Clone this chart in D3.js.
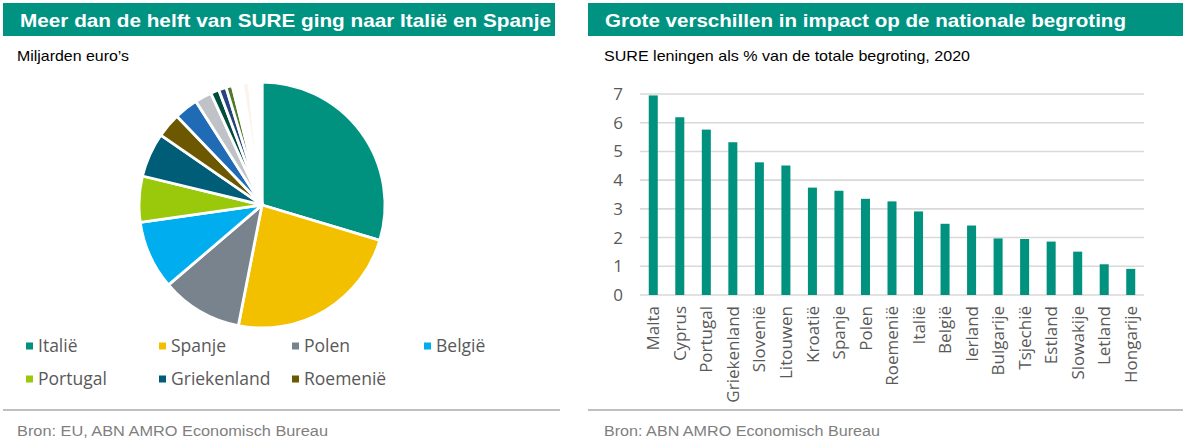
<!DOCTYPE html>
<html>
<head>
<meta charset="utf-8">
<script src="https://cdn.jsdelivr.net/npm/d3@7"></script>
<style>
  html, body { margin: 0; padding: 0; background: #fff; }
  svg { display: block; }
</style>
</head>
<body>
<svg id="chart" width="1185" height="445"></svg>
<script>
// ---------- DATA ----------
const pieCountries = ["Italië","Spanje","Polen","België","Portugal","Griekenland","Roemenië",
  "Tsjechië","Ierland","Kroatië","Slovenië","Litouwen","Slowakije","Bulgarije","Cyprus","Malta",
  "Hongarije","Letland","Estland"];
const pieValues = [26.7, 21.1, 9.6, 8.1, 5.45, 5.25, 2.9, 2.8, 2.0, 1.0, 0.9, 0.75, 0.3, 0.3, 0.3, 0.3, 0.8, 0.8, 0.7];
const pieColors = ["#00927f","#f3c000","#78838e","#00aeef","#99c90a","#005d78","#6b5800",
  "#1f6bb5","#bfc3c7","#004c3f","#26427f","#4f7a28","#8db4e2","#b4c7e7","#f4b183","#f8cbad",
  "#fdf2ec","#ffffff","#ffffff"];
const legendItems = ["Italië","Spanje","Polen","België","Portugal","Griekenland","Roemenië"];

const barCountries = ["Malta","Cyprus","Portugal","Griekenland","Slovenië","Litouwen","Kroatië",
  "Spanje","Polen","Roemenië","Italië","België","Ierland","Bulgarije","Tsjechië","Estland",
  "Slowakije","Letland","Hongarije"];
const barValues = [6.95, 6.19, 5.76, 5.32, 4.62, 4.51, 3.74, 3.63, 3.35, 3.26, 2.91, 2.48, 2.42,
  1.97, 1.95, 1.86, 1.51, 1.07, 0.91];
const yTicks = [0, 1, 2, 3, 4, 5, 6, 7];

const titles = ["Meer dan de helft van SURE ging naar Italië en Spanje",
                "Grote verschillen in impact op de nationale begroting"];
const subtitles = ["Miljarden euro’s", "SURE leningen als % van de totale begroting, 2020"];
const sources = ["Bron: EU, ABN AMRO Economisch Bureau", "Bron: ABN AMRO Economisch Bureau"];

// ---------- DRAW ----------
const svg = d3.select("#chart");
const teal = "#009382";
const sans = "'Liberation Sans', Arial, sans-serif";
const uiFont = "'Open Sans', 'Noto Sans', sans-serif";

const panels = [
  {x0: 3, x1: 555, tx: 20, tw: 531, sx: 17, sw: 112, fw: 311, lineX1: 560},
  {x0: 588, x1: 1183, tx: 605, tw: 521, sx: 604, sw: 366, fw: 276, lineX1: 1183}
];
panels.forEach((p, i) => {
  svg.append("rect").attr("x", p.x0).attr("y", 3).attr("width", p.x1 - p.x0).attr("height", 33)
    .attr("fill", teal);
  svg.append("text").attr("x", p.tx).attr("y", 26.5).text(titles[i])
    .attr("font-family", sans).attr("font-weight", "bold").attr("font-size", 19)
    .attr("fill", "#fff").attr("textLength", p.tw).attr("lengthAdjust", "spacingAndGlyphs");
  svg.append("text").attr("x", p.sx).attr("y", 60.5).text(subtitles[i])
    .attr("font-family", sans).attr("font-size", 15).attr("fill", "#000")
    .attr("textLength", p.sw).attr("lengthAdjust", "spacingAndGlyphs");
  svg.append("line").attr("x1", p.x0).attr("x2", p.lineX1).attr("y1", 410).attr("y2", 410)
    .attr("stroke", "#bfbfbf").attr("stroke-width", 2);
  svg.append("text").attr("x", p.sx).attr("y", 436).text(sources[i])
    .attr("font-family", sans).attr("font-size", 15.5).attr("fill", "#7f7f7f")
    .attr("textLength", p.fw).attr("lengthAdjust", "spacingAndGlyphs");
});

// ---------- PIE ----------
const pie = d3.pie().sort(null).value(d => d)(pieValues);
const arc = d3.arc().innerRadius(0).outerRadius(123);
const pg = svg.append("g").attr("transform", "translate(262,205)");
pg.selectAll("path").data(pie).join("path")
  .attr("d", arc)
  .attr("fill", (d, i) => pieColors[i])
  .attr("stroke", "#fff").attr("stroke-width", 2.8).attr("stroke-linejoin", "round");

// legend
const legX = [26, 159, 292, 424];
const legY = [346, 379];
legendItems.forEach((name, i) => {
  const col = i < 4 ? i : i - 4;
  const row = i < 4 ? 0 : 1;
  const gx = legX[col], gy = legY[row];
  const ci = pieCountries.indexOf(name);
  svg.append("rect").attr("x", gx).attr("y", gy - 3.5).attr("width", 7).attr("height", 7)
    .attr("fill", pieColors[ci]);
  svg.append("text").attr("x", gx + 12).attr("y", gy).attr("dy", "0.35em").text(name)
    .attr("font-family", uiFont).attr("font-size", 17.5).attr("fill", "#595959");
});

// ---------- BARS ----------
const x = d3.scaleBand().domain(barCountries).range([640, 1144]).paddingInner(0.66).paddingOuter(0.33);
const y = d3.scaleLinear().domain([0, 7]).range([295, 94]);

svg.append("g").selectAll("line").data(yTicks).join("line")
  .attr("x1", 640).attr("x2", 1144)
  .attr("y1", d => y(d)).attr("y2", d => y(d))
  .attr("stroke", "#d9d9d9").attr("stroke-width", 1.6);

svg.append("g").selectAll("rect").data(barValues).join("rect")
  .attr("x", (d, i) => x(barCountries[i]))
  .attr("width", x.bandwidth())
  .attr("y", d => y(d))
  .attr("height", d => y(0) - y(d))
  .attr("fill", "#00927f");

const yAxis = svg.append("g").attr("transform", "translate(640,0)")
  .call(d3.axisLeft(y).tickValues(yTicks).tickSize(0).tickPadding(17).tickFormat(d3.format("d")));
yAxis.select(".domain").remove();
yAxis.selectAll("text").attr("font-family", uiFont).attr("font-size", 17).attr("fill", "#595959");

const xAxis = svg.append("g").attr("transform", "translate(0,295)")
  .call(d3.axisBottom(x).tickSize(0));
xAxis.select(".domain").remove();
xAxis.selectAll("text")
  .attr("transform", "rotate(-90)")
  .attr("x", -11).attr("y", 0).attr("dy", "0.36em")
  .attr("text-anchor", "end")
  .attr("font-family", uiFont).attr("font-size", 17).attr("fill", "#595959");
</script>
</body>
</html>
